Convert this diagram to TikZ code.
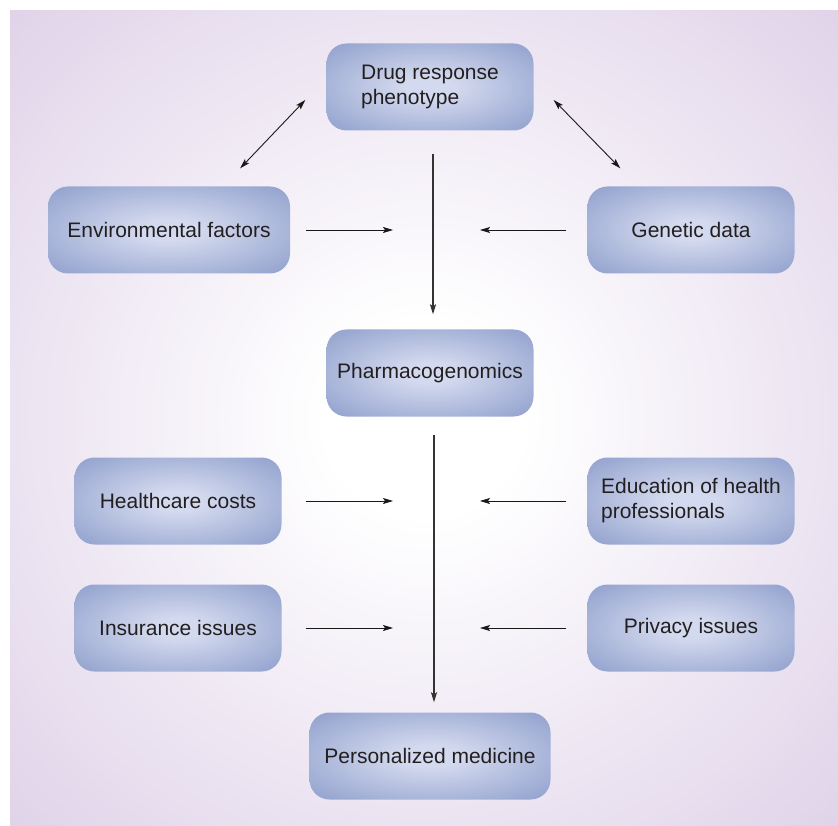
\documentclass[tikz,border=0pt]{standalone}
\usepackage{fontspec}
\setmainfont{Liberation Sans}
\usetikzlibrary{arrows.meta,positioning}

\definecolor{bgout}{HTML}{DACBE5}
\definecolor{boxout}{HTML}{8A9BCA}
\definecolor{boxin}{HTML}{D3D9EE}
\definecolor{txt}{HTML}{231F20}

\pgfdeclareradialshading{boxshade}{\pgfpoint{0bp}{0bp}}{color(0bp)=(boxin); color(6bp)=(boxin); color(38bp)=(boxout); color(100bp)=(boxout)}
\pgfdeclareradialshading{bgshade}{\pgfpoint{0bp}{0bp}}{color(0bp)=(white); color(6bp)=(white); color(41bp)=(bgout); color(100bp)=(bgout)}

\tikzset{
  box/.style={rounded corners=20pt, shading=boxshade, minimum width=207pt, minimum height=87pt,
    inner sep=0pt, align=left, text=txt, font=\fontsize{21}{25}\selectfont},
  arr/.style={-{Stealth[length=10pt,width=6pt,inset=2pt]}, line width=0.9pt, black!90},
  dbl/.style={{Stealth[length=10pt,width=6pt,inset=2pt]}-{Stealth[length=10pt,width=6pt,inset=2pt]}, line width=0.9pt, black!90},
  vline/.style={arr, line width=1.4pt, black!80}
}

\begin{document}
\begin{tikzpicture}[x=1pt,y=-1pt]

  \useasboundingbox (0,0) rectangle (838,826);

  %background
  \fill[white] (0,0) rectangle (838,826);
  \shade[shading=bgshade] (10,11) rectangle (838,826);

  %boxes
  \node[box] (drug) at (430,87) {Drug response\\phenotype};
  \node[box, minimum width=242pt] (env) at (169,230) {Environmental factors};
  \node[box] (gen) at (691,230) {Genetic data};
  \node[box] (pharm) at (430,373) {Pharmacogenomics};

  \foreach \name/\x/\y/\txt in {hc/178/501/Healthcare costs, edu/691/501/{Education of health\\professionals},
                               ins/178/628/Insurance issues, priv/691/628/Privacy issues}{
      \node[box] (\name) at (\x,\y) {\txt};
  }

  \node[box, minimum width=241pt] (pers) at (430,756) {Personalized medicine};

  %main line
  \draw[vline, shorten <=23pt, shorten >=15pt] ([xshift=3pt]drug.south) -- ([xshift=3pt]pharm.north);
  \draw[vline, shorten <=18pt, shorten >=10pt] ([xshift=4pt]pharm.south) -- ([xshift=4pt]pers.north);

  %feedback
  \draw[dbl] ([shift={(-21,13)}]drug.west) -- ([shift={(-50,-18)}]env.north east);
  \draw[dbl] ([shift={(20,13)}]drug.east) -- ([shift={(33,-18)}]gen.north west);

  %side inputs
  \foreach \l/\r/\y/\gap in {env/gen/230/16, hc/edu/501/24, ins/priv/628/24}{
      \coordinate (in\l) at (393,\y);
      \coordinate (in\r) at (480,\y);
      \draw[arr, shorten <=\gap pt] (\l) -- (in\l);
      \draw[arr, shorten <=21pt] (\r) -- (in\r);
  }

\end{tikzpicture}
\end{document}
